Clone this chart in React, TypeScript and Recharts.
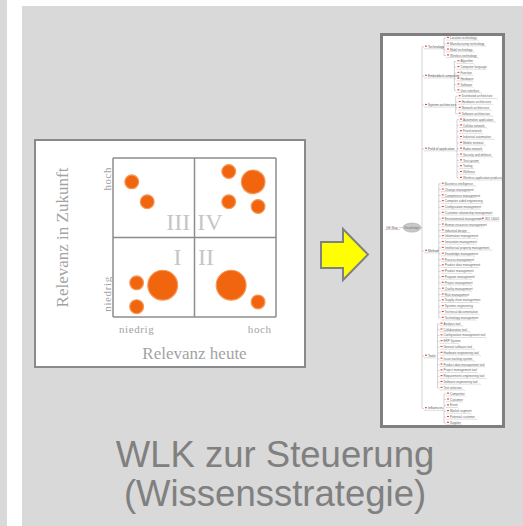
import React from 'react';
import {
  ScatterChart,
  Scatter,
  XAxis,
  YAxis,
  ZAxis,
  ReferenceLine,
} from 'recharts';

// --- portfolio matrix (Relevanz heute / Relevanz in Zukunft) ---
const bubbleX = [0.23, 0.42, 1.42, 1.72, 1.42, 1.78, 0.29, 0.61, 0.29, 1.45, 1.78];
const bubbleY = [1.7, 1.45, 1.83, 1.7, 1.45, 1.39, 0.43, 0.4, 0.13, 0.4, 0.19];
const bubbleZ = [1, 1, 1, 2.9, 1, 1, 1, 4.6, 1, 4.6, 1];

const quadrantNames = ['III', 'IV', 'I', 'II'];
const quadrantX = [0.8, 1.19, 0.79, 1.14];
const quadrantY = [1.19, 1.19, 0.76, 0.76];

const xTicks = [0.29, 1.8];
const yTicks = [0.29, 1.74];
const tickLabels = ['niedrig', 'hoch'];
const bounds = [0, 1, 2];

// --- mind map ---
const technologyLeaves = ['Location technology', 'Manufacturing technology', 'Mobil technology', 'Wireless technology'];
const embeddedLeaves = ['Algorithm', 'Computer language', 'Function', 'Hardware', 'Software', 'User interface'];
const systemLeaves = ['Distributed architecture', 'Hardware architecture', 'Network architecture', 'Software architecture'];
const fieldLeaves = [
  'Automotive application', 'Cellular network', 'Fixed network', 'Industrial automation', 'Mobile terminal',
  'Radio network', 'Security and defence', 'Test system', 'Tooling', 'Wellness', 'Wireless application products',
];
const methodLeaves = [
  'Business intelligence', 'Change management', 'Competence management', 'Computer aided engineering',
  'Configuration management', 'Customer relationship management', 'Environmental management',
  'Human resources management', 'Industrial design', 'Information management', 'Innovation management',
  'Intellectual property management', 'Knowledge management', 'Process management', 'Product data management',
  'Product management', 'Program management', 'Project management', 'Quality management', 'Risk management',
  'Supply chain management', 'Systems engineering', 'Technical documentation', 'Technology management',
];
const toolLeaves = [
  'Analysis tool', 'Collaboration tool', 'Configuration management tool', 'ERP System', 'General software tool',
  'Hardware engineering tool', 'Issue tracking system', 'Product data management tool', 'Project management tool',
  'Requirements engineering tool', 'Software engineering tool', 'Test selection',
];
const influenceLeaves = ['Competitor', 'Customer', 'Event', 'Market segment', 'Potential customer', 'Supplier'];
const branchNames = ['Technology', 'Embedded computing', 'System architecture', 'Field of application', 'Method', 'Tools', 'Influences'];
const branchLeaves = [technologyLeaves, embeddedLeaves, systemLeaves, fieldLeaves, methodLeaves, toolLeaves, influenceLeaves];
const rootName = 'Knowledge';
const mapName = 'GE Map';
const extraParent = 'Environmental management';
const extraLeaf = 'ISO 14001';

const ORANGE = '#f0650e';
const GREY = '#a3a3a3';
const SERIF = '"Liberation Serif", "DejaVu Serif", serif';
const SANS = '"Liberation Sans", Arial, sans-serif';

const bubbles = bubbleX.map((x, i) => ({ x, y: bubbleY[i], z: bubbleZ[i] }));
const quadrants = quadrantNames.map((name, i) => ({ x: quadrantX[i], y: quadrantY[i], name }));

// simple tree layout: one row per leaf, branches centred on their leaves
const TRUNK_X = 39;
const BRANCH_X = 42;
const ROOT_X = 29;
const EXTRA_X = 99;
const leafNodes: any[] = [];
const branchNodes: any[] = [];
const mapLines: { a: { x: number; y: number }; b: { x: number; y: number } }[] = [];
let row = 0;
branchNames.forEach((name, bi) => {
  const leaves = branchLeaves[bi];
  const leafX = BRANCH_X + 9 + name.length * 1.3;
  const first = row;
  leaves.forEach((label) => {
    leafNodes.push({ x: leafX, y: row, label });
    mapLines.push({ a: { x: leafX - 3, y: row }, b: { x: leafX - 1, y: row } });
    if (label === extraParent) {
      leafNodes.push({ x: EXTRA_X, y: row, label: extraLeaf });
      mapLines.push({ a: { x: leafX + 2 + label.length * 1.45, y: row }, b: { x: EXTRA_X - 1, y: row } });
    }
    row += 1;
  });
  const last = row - 1;
  const by = (first + last) / 2;
  branchNodes.push({ x: BRANCH_X, y: by, label: name });
  mapLines.push({ a: { x: leafX - 3, y: first }, b: { x: leafX - 3, y: last } });
  mapLines.push({ a: { x: BRANCH_X + 4 + name.length * 1.45, y: by }, b: { x: leafX - 3, y: by } });
  mapLines.push({ a: { x: TRUNK_X, y: by }, b: { x: BRANCH_X - 1, y: by } });
});
const rootY = (branchNodes[0].y + branchNodes[branchNodes.length - 1].y) / 2;
mapLines.push({ a: { x: TRUNK_X, y: branchNodes[0].y }, b: { x: TRUNK_X, y: branchNodes[branchNodes.length - 1].y } });
mapLines.push({ a: { x: ROOT_X + 9, y: rootY }, b: { x: TRUNK_X, y: rootY } });
mapLines.push({ a: { x: 16, y: rootY }, b: { x: ROOT_X - 9, y: rootY } });
const rootNodes = [{ x: ROOT_X, y: rootY, label: rootName }];
const mapLabelNodes = [{ x: 3, y: rootY, label: mapName }];

const renderBubbleYTick = (props: any) => {
  const { x, y, payload } = props;
  const i = yTicks.indexOf(payload.value);
  const bx = x + 6;
  return (
    <text x={bx} y={y} transform={`rotate(-90 ${bx} ${y})`} textAnchor="middle" fill={GREY} fontSize={11} fontFamily={SERIF} letterSpacing={0.6}>
      {tickLabels[i]}
    </text>
  );
};

const renderQuadrant = (props: any) => (
  <text x={props.cx} y={props.cy + 8} textAnchor="middle" fill="#c6c6c6" fontSize={24} fontFamily={SERIF}>
    {props.payload.name}
  </text>
);

const renderLeaf = (props: any) => {
  const { cx, cy, payload } = props;
  const w = payload.label.length * 1.45;
  return (
    <g>
      <rect x={cx} y={cy - 1.2} width={2} height={1.1} fill="#e0443a" />
      <text x={cx + 3} y={cy + 1} fontSize={3} fill="#666" fontFamily={SANS}>
        {payload.label}
      </text>
      <path d={`M${cx - 1},${cy + 2}H${cx + 3 + w}l1.2,1`} stroke="#bdbdbd" strokeWidth={0.5} fill="none" />
    </g>
  );
};

const renderBranch = (props: any) => {
  const { cx, cy, payload } = props;
  const w = payload.label.length * 1.45;
  return (
    <g>
      <rect x={cx} y={cy - 1.2} width={2} height={1.1} fill="#e0443a" />
      <text x={cx + 3} y={cy + 1} fontSize={3.2} fill="#555" fontFamily={SANS}>
        {payload.label}
      </text>
      <path d={`M${cx - 1},${cy + 2}H${cx + 4 + w}`} stroke="#bdbdbd" strokeWidth={0.5} fill="none" />
    </g>
  );
};

const renderRoot = (props: any) => (
  <g>
    <ellipse cx={props.cx} cy={props.cy} rx={9} ry={4.6} fill="#c8c8c8" stroke="#a8a8a8" strokeWidth={0.5} />
    <text x={props.cx} y={props.cy + 1} textAnchor="middle" fontSize={3} fill="#777" fontFamily={SANS}>
      {props.payload.label}
    </text>
  </g>
);

const renderMapLabel = (props: any) => (
  <g>
    <text x={props.cx} y={props.cy + 1} fontSize={3.2} fill="#666" fontFamily={SANS}>
      {props.payload.label}
    </text>
    <path d={`M${props.cx - 1},${props.cy + 2}H${props.cx + 14}`} stroke="#d49a9a" strokeWidth={0.5} fill="none" />
  </g>
);

export default function App() {
  return (
    <div style={{ position: 'absolute', left: 0, top: 0, width: 523, height: 526, background: '#d9d9d9', overflow: 'hidden' }}>
      <div style={{ position: 'absolute', left: 7, top: 0, width: 15, height: 526, background: '#fff' }} />
      <div style={{ position: 'absolute', left: 22, top: 0, width: 501, height: 6, background: '#fff' }} />

      {/* portfolio matrix */}
      <div style={{ position: 'absolute', left: 34, top: 139, width: 272, height: 229, boxSizing: 'border-box', border: '2px solid #8a8a8a', background: '#fff' }}>
        <ScatterChart width={268} height={225} margin={{ top: 17, right: 28, bottom: 19, left: 11 }}>
          <XAxis
            type="number"
            dataKey="x"
            domain={[0, 2]}
            ticks={xTicks}
            axisLine={false}
            tickLine={false}
            tickFormatter={(v: number) => tickLabels[xTicks.indexOf(v)]}
            tick={{ fill: GREY, fontSize: 11, fontFamily: SERIF, letterSpacing: 0.6 }}
            height={30}
            label={{ value: 'Relevanz heute', position: 'bottom', offset: 0, fill: GREY, fontSize: 17, fontFamily: SERIF }}
          />
          <YAxis
            type="number"
            dataKey="y"
            domain={[0, 2]}
            ticks={yTicks}
            axisLine={false}
            tickLine={false}
            tick={renderBubbleYTick}
            width={66}
            label={{ value: 'Relevanz in Zukunft', angle: -90, position: 'insideLeft', offset: 15, style: { textAnchor: 'middle' }, fill: GREY, fontSize: 17, fontFamily: SERIF }}
          />
          <ZAxis type="number" dataKey="z" domain={[1, 4.6]} range={[150, 700]} />
          {bounds.map((b) => (
            <ReferenceLine key={`vx-${b}`} x={b} stroke="#8c8c8c" strokeWidth={1.5} />
          ))}
          {bounds.map((b) => (
            <ReferenceLine key={`hy-${b}`} y={b} stroke="#8c8c8c" strokeWidth={1.5} />
          ))}
          <Scatter data={quadrants} shape={renderQuadrant} isAnimationActive={false} />
          <Scatter data={bubbles} fill={ORANGE} stroke="#f49a5c" strokeWidth={1.2} isAnimationActive={false} />
        </ScatterChart>
      </div>

      {/* mind map */}
      <div style={{ position: 'absolute', left: 380, top: 33, width: 125, height: 395, boxSizing: 'border-box', border: '3px solid #7f7f7f', background: '#fff' }}>
        <ScatterChart width={119} height={389} margin={{ top: 0, right: 0, bottom: 0, left: 0 }}>
          <XAxis type="number" dataKey="x" domain={[0, 119]} hide />
          <YAxis type="number" dataKey="y" domain={[-0.35, 66.35]} reversed hide />
          {mapLines.map((l, i) => (
            <ReferenceLine key={`ml-${i}`} segment={[l.a, l.b]} stroke="#b5b5b5" strokeWidth={0.6} />
          ))}
          <Scatter data={leafNodes} shape={renderLeaf} isAnimationActive={false} />
          <Scatter data={branchNodes} shape={renderBranch} isAnimationActive={false} />
          <Scatter data={rootNodes} shape={renderRoot} isAnimationActive={false} />
          <Scatter data={mapLabelNodes} shape={renderMapLabel} isAnimationActive={false} />
        </ScatterChart>
      </div>

      <svg width={523} height={526} style={{ position: 'absolute', left: 0, top: 0, pointerEvents: 'none' }}>
        <polygon
          points="321,242 343,242 343,229 368,254.5 343,280 343,268 321,268"
          fill="#ffff00"
          stroke="#808080"
          strokeWidth={2}
          strokeLinejoin="miter"
        />
        <text x={275} y={467} textAnchor="middle" fill="#808080" fontSize={36.5} fontFamily={SANS}>
          WLK zur Steuerung
        </text>
        <text x={275} y={506} textAnchor="middle" fill="#808080" fontSize={36.5} fontFamily={SANS}>
          (Wissensstrategie)
        </text>
      </svg>
    </div>
  );
}
